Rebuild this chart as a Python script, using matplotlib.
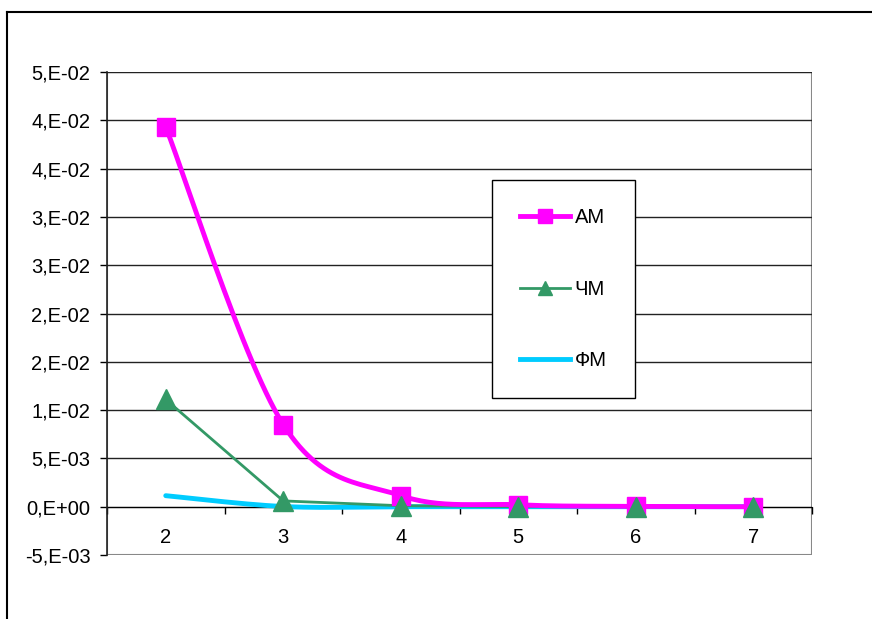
import numpy as np
import matplotlib
matplotlib.use('Agg')
import matplotlib.pyplot as plt
from matplotlib.lines import Line2D
from matplotlib.patches import Rectangle

plt.rcParams['font.family'] = ['Liberation Sans', 'DejaVu Sans']

categories = ['2', '3', '4', '5', '6', '7']
am = [0.0393, 0.0085, 0.00115, 0.0002, 0.00003, 0.0]
chm = [0.0111, 0.0006, 0.0001, 0.0, 0.0, 0.0]
fm = [0.00114, 0.00002, 0.0, 0.0, 0.0, 0.0]
ytick_vals = [-0.005, 0.0, 0.005, 0.01, 0.015, 0.02, 0.025, 0.03, 0.035, 0.04, 0.045]
ytick_labels = ['-5,E-03', '0,E+00', '5,E-03', '1,E-02', '2,E-02', '2,E-02',
                '3,E-02', '3,E-02', '4,E-02', '4,E-02', '5,E-02']


def smooth(y, n=30):
    # excel-like smoothed line (bezier through the points)
    y = np.asarray(y, dtype=float)
    x = np.arange(len(y), dtype=float)
    xs, ys = [], []
    for i in range(len(y) - 1):
        p0 = y[i - 1] if i > 0 else y[i]
        p3 = y[i + 2] if i + 2 < len(y) else y[i + 1]
        x0 = x[i - 1] if i > 0 else x[i]
        x3 = x[i + 2] if i + 2 < len(y) else x[i + 1]
        t = np.linspace(0, 1, n)
        c1y = y[i] + (y[i + 1] - p0) / 6
        c2y = y[i + 1] - (p3 - y[i]) / 6
        c1x = x[i] + (x[i + 1] - x0) / 6
        c2x = x[i + 1] - (x3 - x[i]) / 6
        bx = (1 - t)**3 * x[i] + 3 * (1 - t)**2 * t * c1x + 3 * (1 - t) * t**2 * c2x + t**3 * x[i + 1]
        by = (1 - t)**3 * y[i] + 3 * (1 - t)**2 * t * c1y + 3 * (1 - t) * t**2 * c2y + t**3 * y[i + 1]
        xs.extend(bx)
        ys.extend(by)
    return np.array(xs), np.array(ys)


fig = plt.figure(figsize=(8.72, 6.19), dpi=100)
ax = fig.add_axes([107 / 872, 1 - 555 / 619, 705 / 872, 483 / 619])

x = np.arange(len(categories))

# grid
for v in ytick_vals[1:]:
    ax.axhline(v, color='#222222', lw=1, zorder=1)

# plot area frame
ax.add_patch(Rectangle((0, 0), 1, 1, transform=ax.transAxes, fill=False,
                       edgecolor='#888888', lw=1.5, zorder=0.5))

pink = '#FF00FF'
green = '#339966'
cyan = '#00CCFF'

sx, sy = smooth(fm)
ax.plot(sx, sy, color=cyan, lw=3.5, zorder=3, solid_capstyle='round')
ax.plot(x, chm, color=green, lw=2, zorder=4)
ax.plot(x, chm, ls='none', marker='^', ms=14, color=green, zorder=6)
sx, sy = smooth(am)
ax.plot(sx, sy, color=pink, lw=3.5, zorder=5)
ax.plot(x, am, ls='none', marker='s', ms=13, color=pink, zorder=5)

ax.set_xlim(-0.5, len(categories) - 0.5)
ax.set_ylim(-0.005, 0.045)

ax.set_yticks(ytick_vals)
ax.set_yticklabels(ytick_labels)
ax.tick_params(axis='y', direction='out', length=5, width=1, pad=7,
               labelsize=14.5, color='black')

ax.spines['bottom'].set_position(('data', 0))
ax.spines['bottom'].set_color('black')
ax.spines['bottom'].set_zorder(2)
ax.spines['left'].set_color('#222222')
ax.spines['left'].set_linewidth(1.2)
ax.spines['top'].set_visible(False)
ax.spines['right'].set_visible(False)

ax.set_xticks(x)
ax.set_xticklabels(categories)
ax.set_xticks(np.arange(-0.5, len(categories), 1.0), minor=True)
ax.tick_params(axis='x', which='major', length=0, pad=15, labelsize=14.5)
ax.tick_params(axis='x', which='minor', direction='out', length=5, width=1, color='black')

handles = [
    Line2D([], [], color=pink, lw=3.5, marker='s', ms=10),
    Line2D([], [], color=green, lw=2, marker='^', ms=10),
    Line2D([], [], color=cyan, lw=3.5),
]
leg = ax.legend(handles, ['АМ', 'ЧМ', 'ФМ'], loc='upper left',
                bbox_to_anchor=(0.546, 0.776), fontsize=14.5, frameon=True,
                fancybox=False, edgecolor='black', framealpha=1,
                labelspacing=2.6, borderpad=1.4, handlelength=2.5,
                handletextpad=0.2, borderaxespad=0)
leg.get_frame().set_linewidth(1)
leg.set_zorder(10)

# chart area border (only top and left visible)
fig.add_artist(Line2D([7 / 872, 7 / 872], [0, 1 - 12 / 619], color='black', lw=1.5,
                      transform=fig.transFigure))
fig.add_artist(Line2D([7 / 872, 1], [1 - 12 / 619, 1 - 12 / 619], color='black', lw=1.5,
                      transform=fig.transFigure))

fig.savefig('out.png', dpi=100)
